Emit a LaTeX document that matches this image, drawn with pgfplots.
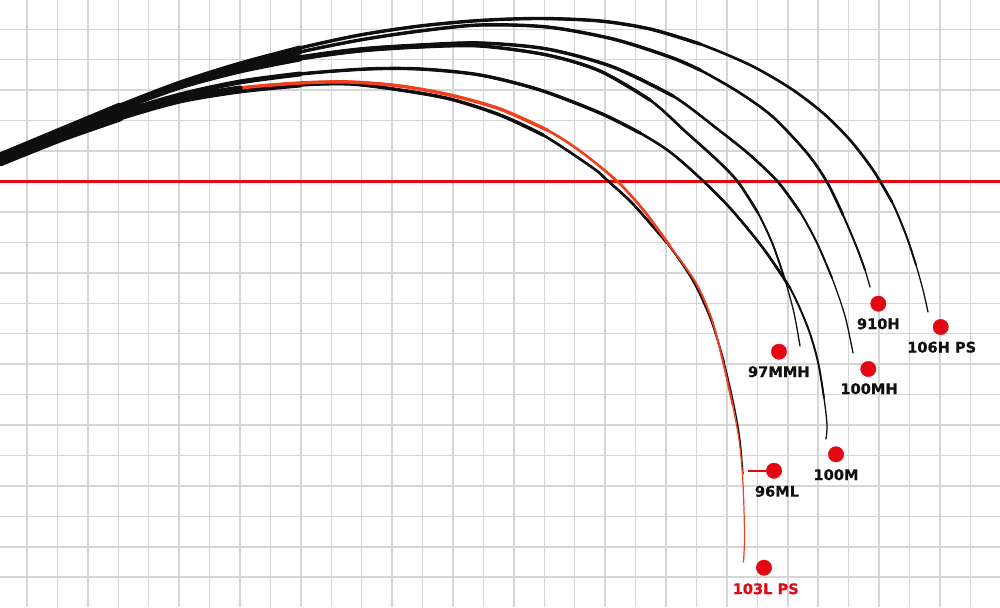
\documentclass[border=0pt]{standalone}
\usepackage{fontspec}
\setmainfont{DejaVu Sans}
\newfontfamily\labfont{DejaVu Sans}[BoldFeatures={FakeBold=0.6}]
\usepackage{pgfplots}
\pgfplotsset{compat=1.18}
\usepackage{pgfplotstable}
\definecolor{gridc}{HTML}{D6D6D6}
\definecolor{dotred}{HTML}{E30613}
\definecolor{rodred}{HTML}{F0401E}
\definecolor{rodblk}{HTML}{0F0F0F}
\definecolor{txt}{HTML}{111111}

% 106H PS
\pgfplotstableread{
x y
0 156
60 131
120 106
180 83
240 64
300 48
360 35
420 26
480 20.5
540 18.5
600 21
650 29
700 44
750 65
790 88
823 113
850 140
873 170
892 202
906 235
916 265
923 290
928 312
}\tA
% 910H
\pgfplotstableread{
x y
0 157
60 132
120 107
180 84
240 67
300 52
360 40
420 31
480 25
547 27
613 39
670 57
700 70
740 93
773 117
807 153
827 182
843 215
857 248
865 270
870 287
}\tB
% 100MH
\pgfplotstableread{
x y
0 158
60 133
120 108
180 86
240 69
300 57
360 49
420 45
480 43
547 49
613 67
673 96
720 131
750 155
778 182
800 212
817 243
832 278
845 316
853 353
}\tC
% 97MMH
\pgfplotstableread{
x y
0 159
60 134
120 109
180 87
240 71
300 59
360 51
420 47
480 46
547 55
600 71
650 100
687 133
717 160
738 182
758 213
773 245
785 280
794 313
800 346
}\tD
% 100M
\pgfplotstableread{
x y
0 160
60 136
120 113
180 95
240 82
300 74
367 69
420 69
480 75
540 90
600 113
640 133
670 152
700 178
730 208
763 248
790 288
808 328
818 362
824 398
827 425
826 439
}\tE
% 96ML
\pgfplotstableread{
x y
0 163
60 139
120 118
180 101
240 91
300 85
350 84
400 90
450 99
500 115
543 135
593 168
608 181
633 204
667 243
693 281
711 320
724 362
734 405
740 440
743 474
}\tF
% 103L PS
\pgfplotstableread{
x y
0 162
60 138
120 116
180 98
240 88
300 83
350 82
400 86
450 95
500 109
547 130
580 151
618 182
645 212
670 246
696 283
712 320
723 362
732.5 405
739 440
742.5 475
744 510
744.5 540
743.5 562
}\tG

% table, colour, then the first index left out of each thicker prefix
\newcommand{\rodplot}[7]{%
\addplot[smooth,#2,line width=1.3pt,line cap=round,mark=none] table {#1};
\addplot[smooth,#2,line width=1.9pt,line cap=round,mark=none,skip coords between index={#7}{999}] table {#1};
\addplot[smooth,#2,line width=2.6pt,line cap=round,mark=none,skip coords between index={#6}{999}] table {#1};
\addplot[smooth,#2,line width=3.4pt,line cap=round,mark=none,skip coords between index={#5}{999}] table {#1};
\addplot[smooth,#2,line width=5pt,line cap=round,mark=none,skip coords between index={#4}{999}] table {#1};
\addplot[smooth,#2,line width=7pt,line cap=round,mark=none,skip coords between index={#3}{999}] table {#1};
}

\begin{document}
\begin{tikzpicture}
\begin{axis}[name=ax, scale only axis, width=1000pt, height=607pt,
  xmin=0, xmax=1000, ymin=0, ymax=607, y dir=reverse,
  axis line style={draw=none}, major tick length=0pt,
  xtick={27,57.43,...,1000}, ytick={29.3,59.74,...,607},
  xticklabels={}, yticklabels={},
  grid=major, grid style={gridc, line width=1.5pt}, clip=true]

\addplot[dotred, line width=2.6pt] coordinates {(0,181.7) (1000,181.7)};

\rodplot{\tA}{rodblk}{3}{6}{13}{19}{21}
\rodplot{\tB}{rodblk}{3}{6}{13}{18}{20}
\rodplot{\tC}{rodblk}{3}{6}{12}{16}{18}
\rodplot{\tD}{rodblk}{3}{6}{12}{16}{18}
\rodplot{\tE}{rodblk}{3}{6}{12}{17}{20}
\rodplot{\tF}{rodblk}{3}{6}{11}{15}{18}
% 103L PS: red blank, black butt
\addplot[smooth,rodred,line width=1.2pt,line cap=round,mark=none] table {\tG};
\addplot[smooth,rodred,line width=1.8pt,line cap=round,mark=none,skip coords between index={19}{999}] table {\tG};
\addplot[smooth,rodred,line width=2.6pt,line cap=round,mark=none,skip coords between index={15}{999}] table {\tG};
\addplot[smooth,rodred,line width=3.4pt,line cap=round,mark=none,skip coords between index={11}{999}] table {\tG};
\addplot[smooth,rodblk,line width=5pt,line cap=round,mark=none,skip coords between index={5}{999}] table {\tG};
\addplot[smooth,rodblk,line width=7pt,line cap=round,mark=none,skip coords between index={3}{999}] table {\tG};

% connector for 96ML
\addplot[dotred, line width=2pt] coordinates {(748,470.7) (774,470.7)};
% dots
\addplot[only marks, mark=*, mark size=7.7pt, dotred, mark options={draw=dotred, fill=dotred}] coordinates {
(878.3,303.7) (940.7,327) (779,351.7) (868.3,369) (836,454.3) (774,470.7) (764,567.7)};

\begin{scope}[every node/.style={inner sep=0pt, font=\labfont\fontsize{14.6}{16}\selectfont\bfseries, text=txt}]
\node at (axis cs:878.3,323.8) {910H};
\node at (axis cs:941.7,347.2) {106H PS};
\node at (axis cs:778.8,371.7) {97MMH};
\node at (axis cs:869,388.7) {100MH};
\node at (axis cs:836,474.7) {100M};
\node at (axis cs:777,491.3) {96ML};
\node[text=dotred] at (axis cs:765.7,588.8) {103L PS};
\end{scope}
\end{axis}
\pgfresetboundingbox
\path[use as bounding box] (ax.south west) rectangle (ax.north east);
\end{tikzpicture}
\end{document}
